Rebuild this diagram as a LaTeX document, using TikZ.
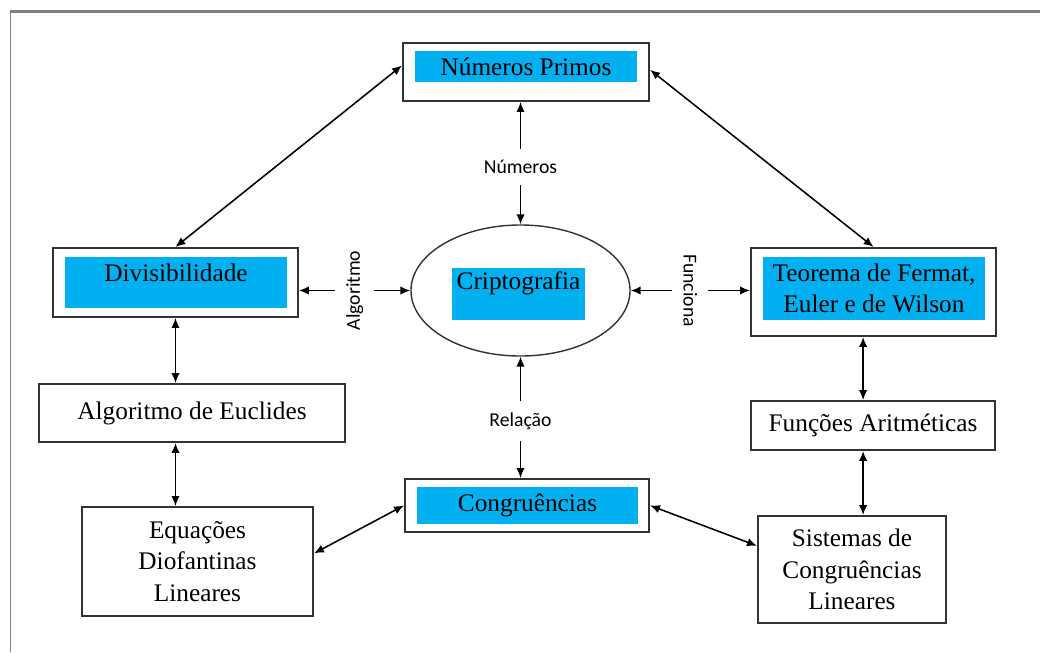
\documentclass[tikz,border=0pt]{standalone}
\usepackage{fontspec}
\setmainfont{Liberation Serif}
\newfontfamily\tagfont{Carlito}
\usetikzlibrary{arrows.meta,calc,shapes.geometric}
\definecolor{skyfill}{HTML}{00B0F0}

\begin{document}
\begin{tikzpicture}[x=0.025cm, y=-0.025cm, font=\fontsize{18}{22.4}\selectfont,
  box/.style={draw=black!80, line width=1.5pt, fill=white, align=center, inner sep=0pt},
  hl/.style={fill=skyfill, align=center, inner sep=0pt},
  tag/.style={fill=white, font=\tagfont\fontsize{14}{16}\selectfont, inner sep=8pt},
  link/.style={{Latex[length=7pt,width=6pt]}-{Latex[length=7pt,width=6pt]}, line width=1.1pt}]
  \useasboundingbox (0,0) rectangle (1040,652);
  % page frame
  \draw[black!50, line width=1.4pt] (10.5,652) -- (10.5,11.5);
  \draw[black!50, line width=2.2pt] (9.8,11.5) -- (1040,11.5);

  % boxes
  \node[box, minimum width=6.15cm, minimum height=1.45cm] (primos) at (526,72) {};
  \node[hl, minimum width=5.55cm, minimum height=0.775cm] (primostxt) at (526,66.5) {Números Primos};
  \node[box, minimum width=6.125cm, minimum height=1.725cm] (div) at (175.5,282.5) {};
  \node[hl, minimum width=5.55cm, minimum height=1.275cm, text depth=14pt] (divtxt) at (176,282.5) {Divisibilidade};
  \node[draw=black!80, line width=1pt, ellipse, minimum width=5.475cm, minimum height=3.275cm] (cripto) at (520.5,290.5) {};
  \node[hl, minimum width=3.325cm, minimum height=1.3cm, text depth=19pt] (criptotxt) at (518.5,294) {Criptografia};
  \node[box, minimum width=6.125cm, minimum height=2.2cm] (teorema) at (873.5,292) {};
  \node[hl, minimum width=5.55cm, minimum height=1.575cm] (teorematxt) at (874,288.5) {Teorema de Fermat,\\ Euler e de Wilson};
  \node[box, minimum width=7.65cm, minimum height=1.45cm] (euclid) at (192,413) {Algoritmo de Euclides};
  \node[box, minimum width=5.775cm, minimum height=2.725cm] (equ) at (197.5,561.5) {Equações\\ Diofantinas\\ Lineares};
  \node[box, minimum width=6.1cm, minimum height=1.325cm] (congr) at (527,505.5) {};
  \node[hl, minimum width=5.525cm, minimum height=0.925cm] (congrtxt) at (527.5,505.5) {Congruências};
  \node[box, minimum width=6.1cm, minimum height=1.225cm] (funcoes) at (873,425.5) {Funções Aritméticas};
  \node[box, minimum width=4.7cm, minimum height=2.675cm] (sistemas) at (852,569.5) {Sistemas de\\ Congruências\\ Lineares};

  % links around Criptografia
  \draw[link] (cripto.north |- primos.south) -- node[tag, pos=0.53] (numtag) {Números} (cripto.north);
  \draw[link] (div.east |- cripto.west) -- node[tag, rotate=90] (algtag) {Algoritmo} (cripto.west);
  \draw[link] (cripto.east) -- node[tag, rotate=-90] (funtag) {Funciona} (cripto.east -| teorema.west);
  \draw[link] (cripto.south) -- node[tag, pos=0.53] (reltag) {Relação} (cripto.south |- congr.north);

  % outer links
  \draw[link] (primos.177) -- (div.north);
  \draw[link] (primos.1) -- (teorema.north);
  \draw[link] (div.south) -- (div.south |- euclid.north);
  \draw[link] (div.south |- euclid.south) -- (div.south |- equ.north);
  \draw[link] (teorema.-103) -- (teorema.-103 |- funcoes.north);
  \draw[link] (teorema.-103 |- funcoes.south) -- (teorema.-103 |- sistemas.north);
  \draw[link] (congr.west) -- (equ.4);
  \draw[link] (congr.east) -- (sistemas.166);
\end{tikzpicture}
\end{document}
